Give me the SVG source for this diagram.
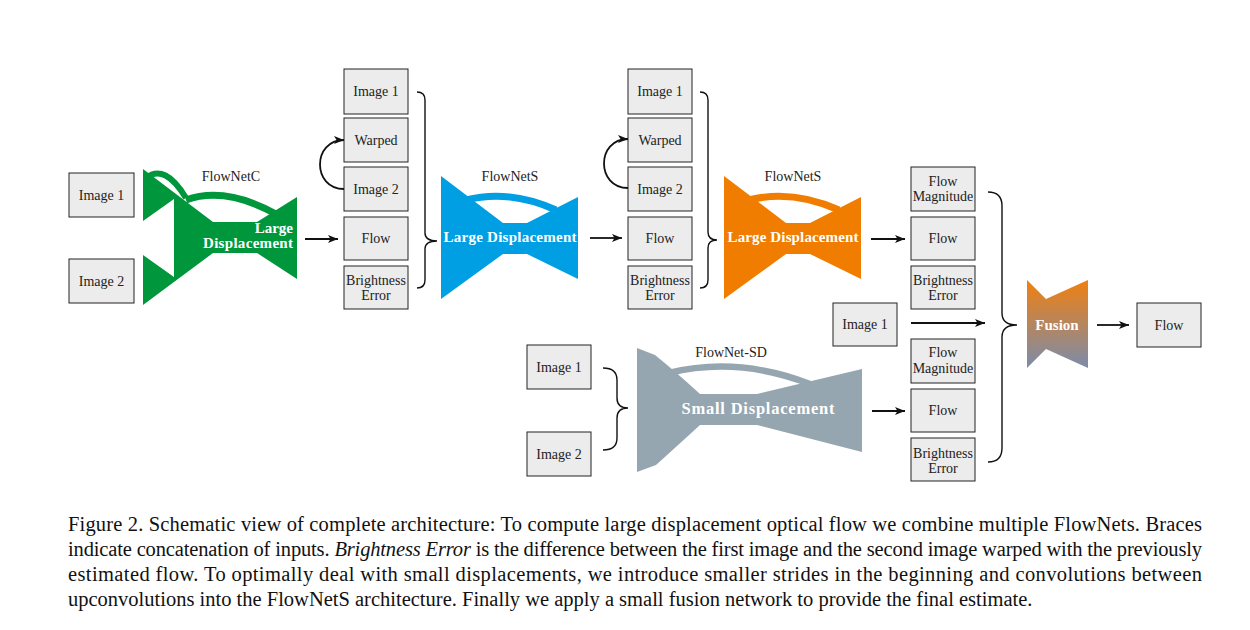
<svg xmlns="http://www.w3.org/2000/svg" width="1250" height="630" viewBox="0 0 1250 630">
<defs>
<marker id="ah" viewBox="0 0 10 8" refX="10" refY="4" markerWidth="10" markerHeight="8" markerUnits="userSpaceOnUse" orient="auto">
<path d="M0,0 L10,4 L0,8 L2.5,4 z" fill="#111"/>
</marker>
<linearGradient id="fg" x1="0" y1="0" x2="0" y2="1">
<stop offset="0" stop-color="#f08010"/>
<stop offset="1" stop-color="#7b8cab"/>
</linearGradient>
</defs>
<style>
.box{fill:#ececec;stroke:#222;stroke-width:1}
.lbl{font-family:"Liberation Serif","Times New Roman",serif;font-size:14px;fill:#222;text-anchor:middle}
.ttl{font-family:"Liberation Serif","Times New Roman",serif;font-size:14px;fill:#222;text-anchor:middle}
.net{font-family:"Liberation Serif","Times New Roman",serif;font-size:15px;font-weight:bold;fill:#fff;text-anchor:middle}
.arr{fill:none;stroke:#111;stroke-width:1.8;marker-end:url(#ah)}
.brace{fill:none;stroke:#111;stroke-width:1.4}
.cap{font-family:"Liberation Serif","Times New Roman",serif;font-size:20.5px;fill:#111}
</style>
<rect width="1250" height="630" fill="#fff"/>

<!-- FlowNetC -->
<g id="flownetc">
<path d="M143,169 L213,222 L257,222 L297,197 L297,279 L257,253 L213,253 L143,305 L143,255 L174,277 L174,199 L143,221 Z" fill="#00963c"/>
<path d="M146,178 Q165,163 186,198" fill="none" stroke="#00963c" stroke-width="6"/>
<path d="M186,200 Q225,186 276,214" fill="none" stroke="#00963c" stroke-width="7"/>
<text class="ttl" x="231" y="181">FlowNetC</text>
<text class="net" x="293" y="233" style="text-anchor:end">Large</text>
<text class="net" x="293" y="248" style="text-anchor:end" textLength="90" lengthAdjust="spacing">Displacement</text>
</g>

<!-- FlowNetS blue -->
<g id="flownets1">
<path d="M441,176 L503,223 L527,223 L578,197 L578,279 L527,254 L503,254 L441,299 Z" fill="#009fe3"/>
<path d="M466,200 Q509,189 556,210" fill="none" stroke="#009fe3" stroke-width="7"/>
<text class="ttl" x="510" y="181">FlowNetS</text>
<text class="net" x="510" y="242" textLength="133" lengthAdjust="spacing">Large Displacement</text>
</g>

<!-- FlowNetS orange -->
<g id="flownets2">
<path d="M724,176 L786,223 L810,223 L861,197 L861,279 L810,254 L786,254 L724,299 Z" fill="#f07d00"/>
<path d="M749,200 Q792,189 839,210" fill="none" stroke="#f07d00" stroke-width="7"/>
<text class="ttl" x="793" y="181">FlowNetS</text>
<text class="net" x="793" y="242" textLength="131" lengthAdjust="spacing">Large Displacement</text>
</g>

<!-- FlowNet-SD gray -->
<g id="flownetsd">
<path d="M637,348 L655,355 Q676,372 700,394 L757,394 L862,369 L862,452 L757,425 L700,425 Q676,447 656,465 L637,472 Z" fill="#95a6b0"/>
<path d="M669,373 Q737,356 810,384" fill="none" stroke="#95a6b0" stroke-width="6.5"/>
<text class="ttl" x="731" y="357">FlowNet-SD</text>
<text class="net" x="758" y="414" style="font-size:16.5px" textLength="153" lengthAdjust="spacing">Small Displacement</text>
</g>

<!-- Fusion -->
<g id="fusion">
<path d="M1027,280 L1046,299 L1088,280 L1088,368 L1046,349 L1027,368 Z" fill="url(#fg)"/>
<text class="net" x="1057" y="330">Fusion</text>
</g>

<!-- column 1 -->
<g id="c1-img1"><rect class="box" x="69" y="173" width="65" height="44"/><text class="lbl" x="101.5" y="199.5">Image 1</text></g>
<g id="c1-img2"><rect class="box" x="69" y="259" width="65" height="44"/><text class="lbl" x="101.5" y="285.5">Image 2</text></g>

<!-- column 2 -->
<g id="c2-img1"><rect class="box" x="344" y="69" width="64" height="45"/><text class="lbl" x="376" y="96">Image 1</text></g>
<g id="c2-warped"><rect class="box" x="344" y="118" width="64" height="44"/><text class="lbl" x="376" y="144.5">Warped</text></g>
<g id="c2-img2"><rect class="box" x="344" y="167" width="64" height="44"/><text class="lbl" x="376" y="193.5">Image 2</text></g>
<g id="c2-flow"><rect class="box" x="344" y="217" width="64" height="43"/><text class="lbl" x="376" y="243">Flow</text></g>
<g id="c2-be"><rect class="box" x="344" y="266" width="64" height="43"/><text class="lbl" x="376" y="284.5">Brightness</text><text class="lbl" x="376" y="299.5">Error</text></g>

<!-- column 3 -->
<g id="c3-img1"><rect class="box" x="628" y="69" width="64" height="45"/><text class="lbl" x="660" y="96">Image 1</text></g>
<g id="c3-warped"><rect class="box" x="628" y="118" width="64" height="44"/><text class="lbl" x="660" y="144.5">Warped</text></g>
<g id="c3-img2"><rect class="box" x="628" y="167" width="64" height="44"/><text class="lbl" x="660" y="193.5">Image 2</text></g>
<g id="c3-flow"><rect class="box" x="628" y="217" width="64" height="43"/><text class="lbl" x="660" y="243">Flow</text></g>
<g id="c3-be"><rect class="box" x="628" y="266" width="64" height="43"/><text class="lbl" x="660" y="284.5">Brightness</text><text class="lbl" x="660" y="299.5">Error</text></g>

<!-- gray inputs -->
<g id="sd-img1"><rect class="box" x="527" y="345" width="64" height="44"/><text class="lbl" x="559" y="371.5">Image 1</text></g>
<g id="sd-img2"><rect class="box" x="527" y="432" width="64" height="44"/><text class="lbl" x="559" y="458.5">Image 2</text></g>

<!-- middle image 1 -->
<g id="mid-img1"><rect class="box" x="833" y="303" width="64" height="43"/><text class="lbl" x="865" y="329">Image 1</text></g>

<!-- right column -->
<g id="r-fm1"><rect class="box" x="911" y="167" width="64" height="44"/><text class="lbl" x="943" y="185.5">Flow</text><text class="lbl" x="943" y="200.5">Magnitude</text></g>
<g id="r-flow1"><rect class="box" x="911" y="217" width="64" height="43"/><text class="lbl" x="943" y="243">Flow</text></g>
<g id="r-be1"><rect class="box" x="911" y="266" width="64" height="43"/><text class="lbl" x="943" y="284.5">Brightness</text><text class="lbl" x="943" y="299.5">Error</text></g>
<g id="r-fm2"><rect class="box" x="911" y="339" width="64" height="44"/><text class="lbl" x="943" y="357">Flow</text><text class="lbl" x="943" y="373">Magnitude</text></g>
<g id="r-flow2"><rect class="box" x="911" y="389" width="64" height="43"/><text class="lbl" x="943" y="415">Flow</text></g>
<g id="r-be2"><rect class="box" x="911" y="438" width="64" height="43"/><text class="lbl" x="943" y="458">Brightness</text><text class="lbl" x="943" y="473">Error</text></g>

<!-- final flow -->
<g id="final-flow"><rect class="box" x="1137" y="303" width="64" height="44"/><text class="lbl" x="1169" y="329.5">Flow</text></g>

<!-- connectors -->
<g id="connectors">
<path class="arr" d="M305,239 L338,239"/>
<path class="arr" d="M590,238 L622,238"/>
<path class="arr" d="M871,239 L905,239"/>
<path class="arr" d="M872,411 L905,411"/>
<path class="arr" d="M911,323 L985,323"/>
<path class="arr" d="M1097,325 L1129,325"/>
<path class="arr" d="M344,189 C312,189 312,140 344,140"/>
<path class="arr" d="M628,188 C596,188 596,139 628,139"/>
<path class="brace" d="M417,92 Q425,92 425,100 L425,233 Q425,241 437,241 Q425,241 425,249 L425,280 Q425,288 417,288"/>
<path class="brace" d="M700,92 Q708,92 708,100 L708,232 Q708,240 717,240 Q708,240 708,248 L708,280 Q708,288 700,288"/>
<path class="brace" d="M603,368 Q617,368 617,380 L617,398 Q617,408 628,408 Q617,408 617,418 L617,438 Q617,450 603,450"/>
<path class="brace" d="M988,192 Q1002,192 1002,206 L1002,313 Q1002,325 1017,325 Q1002,325 1002,337 L1002,448 Q1002,462 988,462"/>
</g>

<!-- caption -->
<g id="caption">
<text class="cap" x="68" y="531" textLength="1134" lengthAdjust="spacing">Figure 2. Schematic view of complete architecture: To compute large displacement optical flow we combine multiple FlowNets. Braces</text>
<text class="cap" x="68" y="556" textLength="1134" lengthAdjust="spacing">indicate concatenation of inputs. <tspan font-style="italic">Brightness Error</tspan> is the difference between the first image and the second image warped with the previously</text>
<text class="cap" x="68" y="581" textLength="1134" lengthAdjust="spacing">estimated flow.  To optimally deal with small displacements, we introduce smaller strides in the beginning and convolutions between</text>
<text class="cap" x="68" y="606">upconvolutions into the FlowNetS architecture. Finally we apply a small fusion network to provide the final estimate.</text>
</g>
</svg>
